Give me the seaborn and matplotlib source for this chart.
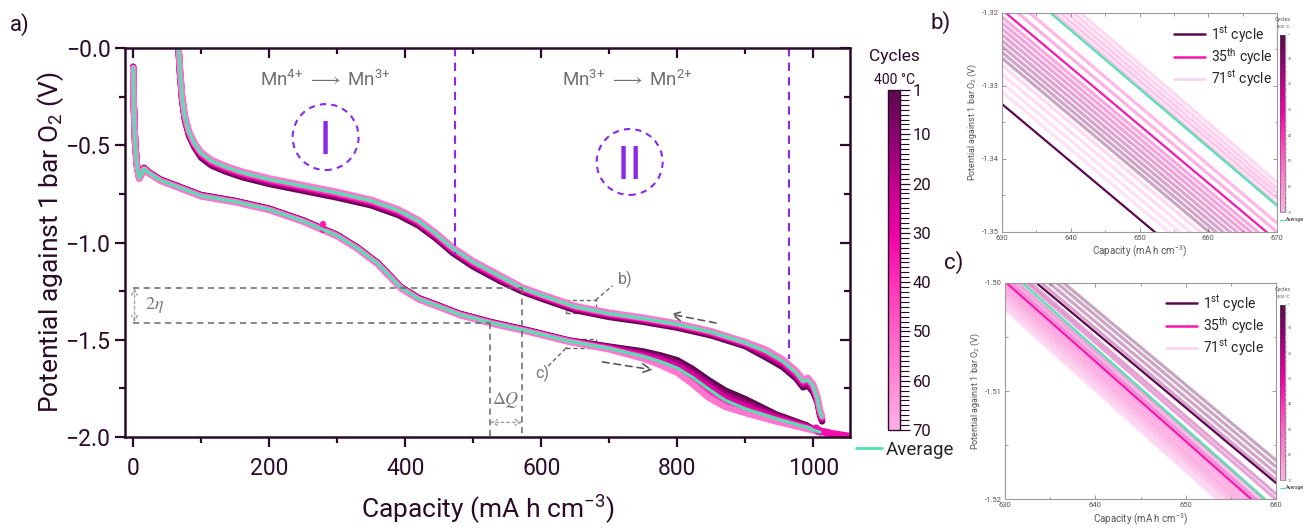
import numpy as np
import pandas as pd
import matplotlib
matplotlib.use("Agg")
import matplotlib.pyplot as plt
from matplotlib.colors import LinearSegmentedColormap, Normalize
from matplotlib.cm import ScalarMappable
from matplotlib.lines import Line2D
from matplotlib.patches import Ellipse, Rectangle
from matplotlib.ticker import FixedLocator, NullFormatter
import seaborn as sns

# ------------------------------------------------------------------
# Galvanostatic cycling at 400 °C: capacity (mA h cm^-3) vs potential (V)
# ------------------------------------------------------------------
cycle_ids = [1, 14, 27, 40, 55]

upper_capacity = [66, 69, 72, 76, 82, 90, 100, 115, 135, 160, 200, 250, 300, 350,
                  390, 420, 445, 470, 500, 540, 572, 600, 650, 700, 750, 800, 850,
                  900, 930, 955, 975, 985, 992, 1000, 1006, 1010, 1013]
upper_avg = [0.050, -0.120, -0.250, -0.350, -0.430, -0.490, -0.540, -0.580, -0.610,
             -0.640, -0.675, -0.710, -0.745, -0.785, -0.835, -0.890, -0.955, -1.030,
             -1.100, -1.175, -1.234, -1.270, -1.330, -1.365, -1.390, -1.420, -1.460,
             -1.515, -1.560, -1.610, -1.670, -1.715, -1.705, -1.740, -1.800, -1.870, -1.900]
upper_c1 = [0.030, -0.140, -0.270, -0.370, -0.450, -0.510, -0.564, -0.604, -0.634,
            -0.664, -0.699, -0.734, -0.769, -0.809, -0.859, -0.914, -0.979, -1.054,
            -1.124, -1.199, -1.252, -1.288, -1.348, -1.383, -1.408, -1.438, -1.478,
            -1.533, -1.590, -1.640, -1.700, -1.745, -1.735, -1.770, -1.820, -1.890, -1.920]
upper_c14 = [0.036, -0.134, -0.264, -0.364, -0.444, -0.504, -0.556, -0.596, -0.626,
             -0.656, -0.691, -0.726, -0.761, -0.801, -0.851, -0.906, -0.971, -1.046,
             -1.116, -1.191, -1.245, -1.281, -1.341, -1.376, -1.401, -1.431, -1.471,
             -1.526, -1.578, -1.628, -1.688, -1.733, -1.723, -1.758, -1.812, -1.882, -1.912]
upper_c27 = [0.042, -0.128, -0.258, -0.358, -0.438, -0.498, -0.548, -0.588, -0.618,
             -0.648, -0.683, -0.718, -0.753, -0.793, -0.843, -0.898, -0.963, -1.038,
             -1.108, -1.183, -1.239, -1.275, -1.335, -1.370, -1.395, -1.425, -1.465,
             -1.520, -1.568, -1.618, -1.678, -1.723, -1.713, -1.748, -1.805, -1.875, -1.905]
upper_c40 = [0.048, -0.122, -0.252, -0.352, -0.432, -0.492, -0.542, -0.582, -0.612,
             -0.642, -0.677, -0.712, -0.747, -0.787, -0.837, -0.892, -0.957, -1.032,
             -1.102, -1.177, -1.234, -1.270, -1.330, -1.365, -1.390, -1.420, -1.460,
             -1.515, -1.558, -1.608, -1.668, -1.713, -1.703, -1.738, -1.798, -1.868, -1.898]
upper_c55 = [0.054, -0.116, -0.246, -0.346, -0.426, -0.486, -0.535, -0.575, -0.605,
             -0.635, -0.670, -0.705, -0.740, -0.780, -0.830, -0.885, -0.950, -1.025,
             -1.095, -1.170, -1.230, -1.266, -1.326, -1.361, -1.386, -1.416, -1.456,
             -1.511, -1.550, -1.600, -1.660, -1.705, -1.695, -1.730, -1.792, -1.862, -1.892]

lower_capacity = [0, 1, 3, 6, 9, 12, 16, 22, 40, 70, 100, 150, 200, 250, 280, 300, 330,
                  360, 394, 420, 443, 480, 525, 580, 640, 700, 750, 775, 800, 822, 845,
                  870, 900, 945, 990, 1005, 1010]
lower_avg = [-0.100, -0.300, -0.500, -0.620, -0.670, -0.650, -0.620, -0.640, -0.680,
             -0.720, -0.760, -0.790, -0.830, -0.890, -0.935, -0.965, -1.030, -1.110,
             -1.234, -1.290, -1.320, -1.370, -1.412, -1.455, -1.507, -1.545, -1.585,
             -1.612, -1.645, -1.692, -1.750, -1.810, -1.855, -1.905, -1.950, -1.970, -1.975]
lower_c1 = [-0.096, -0.296, -0.496, -0.616, -0.666, -0.646, -0.616, -0.636, -0.676,
            -0.716, -0.756, -0.786, -0.826, -0.886, -0.931, -0.961, -1.026, -1.106,
            -1.230, -1.286, -1.316, -1.366, -1.408, -1.451, -1.503, -1.535, -1.560,
            -1.580, -1.605, -1.649, -1.705, -1.760, -1.805, -1.883, -1.940, -1.970, -1.975]
lower_c14 = [-0.097, -0.297, -0.497, -0.617, -0.667, -0.647, -0.617, -0.637, -0.677,
             -0.717, -0.757, -0.787, -0.827, -0.887, -0.932, -0.962, -1.027, -1.107,
             -1.231, -1.287, -1.317, -1.367, -1.409, -1.452, -1.504, -1.539, -1.570,
             -1.592, -1.620, -1.665, -1.722, -1.780, -1.825, -1.891, -1.944, -1.970, -1.975]
lower_c27 = [-0.099, -0.299, -0.499, -0.619, -0.669, -0.649, -0.619, -0.639, -0.679,
             -0.719, -0.759, -0.789, -0.829, -0.889, -0.934, -0.964, -1.029, -1.109,
             -1.233, -1.289, -1.319, -1.369, -1.411, -1.454, -1.506, -1.543, -1.580,
             -1.604, -1.635, -1.681, -1.738, -1.798, -1.843, -1.900, -1.948, -1.970, -1.975]
lower_c40 = [-0.101, -0.301, -0.501, -0.621, -0.671, -0.651, -0.621, -0.641, -0.681,
             -0.721, -0.761, -0.791, -0.831, -0.891, -0.936, -0.966, -1.031, -1.111,
             -1.235, -1.291, -1.321, -1.371, -1.413, -1.456, -1.508, -1.547, -1.589,
             -1.619, -1.655, -1.704, -1.765, -1.822, -1.863, -1.910, -1.953, -1.970, -1.975]
lower_c55 = [-0.103, -0.303, -0.503, -0.623, -0.673, -0.653, -0.623, -0.643, -0.683,
             -0.723, -0.763, -0.793, -0.833, -0.893, -0.938, -0.968, -1.033, -1.113,
             -1.237, -1.293, -1.323, -1.373, -1.415, -1.458, -1.510, -1.550, -1.597,
             -1.630, -1.670, -1.727, -1.795, -1.845, -1.877, -1.920, -1.958, -1.970, -1.975]

# short artefact of one discharge and the cut-off tail
glitch_capacity = [279, 279]
glitch_potential = [-0.906, -0.935]
tail_capacity = [1004, 1008, 1030, 1054]
tail_potential = [-1.955, -1.968, -1.985, -1.998]

# zoom b): upper branch, each line given at 630 and 670 mA h cm^-3
b_cycles = [4, 8, 12, 16, 20, 24, 28, 32, 38, 42, 46, 50, 54, 58, 62, 64, 66, 68, 70]
b_v630 = [-1.3262, -1.3254, -1.3246, -1.3238, -1.3230, -1.3222, -1.3214, -1.3206,
          -1.3182, -1.3168, -1.3140, -1.3132, -1.3124, -1.3116, -1.3108,
          -1.3272, -1.3284, -1.3296, -1.3308]
b_v670 = [-1.3578, -1.3570, -1.3562, -1.3554, -1.3546, -1.3538, -1.3530, -1.3522,
          -1.3500, -1.3488, -1.3462, -1.3454, -1.3447, -1.3440, -1.3432,
          -1.3588, -1.3600, -1.3612, -1.3624]
b_c1 = [-1.3325, -1.3640]
b_c35 = [-1.3196, -1.3512]
b_avg = [-1.3144, -1.3464]

# zoom c): lower branch, each line given at 630 and 660 mA h cm^-3
c_cycles = [3, 6, 9, 13, 17, 21, 25, 29, 32, 38, 41, 44, 48, 52, 56, 60, 64, 68]
c_v630 = [-1.4955, -1.4960, -1.4966, -1.4972, -1.4980, -1.4983, -1.4990, -1.4994,
          -1.4997, -1.5001, -1.5004, -1.5007, -1.5010, -1.5013, -1.5016, -1.5019,
          -1.5022, -1.5025]
c_v660 = [-1.5164, -1.5170, -1.5176, -1.5182, -1.5195, -1.5200, -1.5210, -1.5215,
          -1.5218, -1.5222, -1.5226, -1.5230, -1.5233, -1.5236, -1.5239, -1.5242,
          -1.5246, -1.5249]
c_c1 = [-1.4976, -1.5185]
c_c35 = [-1.4999, -1.5220]
c_avg = [-1.4986, -1.5209]

x_major = [0, 200, 400, 600, 800, 1000]
x_minor = [100, 300, 500, 700, 900]
y_major = [-2.0, -1.5, -1.0, -0.5, 0.0]
y_tick_labels = ["\u22122.0", "\u22121.5", "\u22121.0", "\u22120.5", "\u22120.0"]
y_minor = [-1.75, -1.25, -0.75, -0.25]
cbar_ticks = [1, 10, 20, 30, 40, 50, 60, 70]
legend_labels = ["1$^{\\mathrm{st}}$ cycle", "35$^{\\mathrm{th}}$ cycle", "71$^{\\mathrm{st}}$ cycle"]

# ------------------------------------------------------------------
sns.set_theme(style="ticks")
plt.rcParams["font.family"] = ["Roboto", "DejaVu Sans"]
plt.rcParams["mathtext.fontset"] = "custom"
plt.rcParams["mathtext.rm"] = "Roboto"
plt.rcParams["mathtext.it"] = "Roboto:italic"
plt.rcParams["mathtext.bf"] = "Roboto:bold"
plt.rcParams["mathtext.sf"] = "Roboto"

INK = "#2a0c28"
MINT = "#52e2b2"
VIOLET = "#8a2ae8"
GRAY = "#666666"
cycle_cmap = LinearSegmentedColormap.from_list(
    "cycles", ["#5b0a4e", "#8c0071", "#c4008f", "#f000a8", "#ff33b8",
               "#ff62c8", "#ff8ad6", "#fbb0e6"])
cycle_norm = Normalize(1, 70)

W, H = 1309, 530
fig = plt.figure(figsize=(W / 100, H / 100), dpi=100)


def fx(px):
    return px / W


def fy(py):
    return 1 - py / H


def box(left, top, right, bottom):
    return [fx(left), fy(bottom), fx(right) - fx(left), fy(top) - fy(bottom)]


def branch_frame(capacity, series):
    frames = [pd.DataFrame({"capacity": capacity, "potential": v, "cycle": c})
              for c, v in series]
    return pd.concat(frames, ignore_index=True)


# ---------------------------- main panel --------------------------
ax = fig.add_axes(box(125, 48, 850, 437))
upper_df = branch_frame(upper_capacity, zip(cycle_ids, [upper_c1, upper_c14, upper_c27, upper_c40, upper_c55]))
lower_df = branch_frame(lower_capacity, zip(cycle_ids, [lower_c1, lower_c14, lower_c27, lower_c40, lower_c55]))
for df in (upper_df, lower_df):
    sns.lineplot(data=df, x="capacity", y="potential", hue="cycle", palette=cycle_cmap,
                 hue_norm=cycle_norm, estimator=None, sort=False, linewidth=4.6,
                 legend=False, ax=ax, solid_capstyle="round", solid_joinstyle="round")
sns.lineplot(x=glitch_capacity, y=glitch_potential, color=cycle_cmap(cycle_norm(36)),
             linewidth=4.5, estimator=None, sort=False, ax=ax)
sns.lineplot(x=tail_capacity, y=tail_potential, color=cycle_cmap(cycle_norm(33)),
             linewidth=5.5, estimator=None, sort=False, ax=ax, solid_capstyle="round")
for cap, avg in ((upper_capacity, upper_avg), (lower_capacity, lower_avg)):
    sns.lineplot(x=cap, y=avg, color=MINT, linewidth=2.2, estimator=None, sort=False,
                 ax=ax, solid_capstyle="round")

ax.set_xlim(-12, 1054)
ax.set_ylim(-2.0, 0.0)
ax.set_xticks(x_major)
ax.set_xticks(x_minor, minor=True)
ax.set_yticks(y_major, labels=y_tick_labels)
ax.set_yticks(y_minor, minor=True)
ax.tick_params(axis="both", which="major", direction="out", length=7.5, width=1.6,
               colors=INK, labelsize=16.5)
ax.tick_params(axis="both", which="minor", direction="out", length=4, width=1.6, colors=INK)
ax.tick_params(axis="x", which="major", pad=7)
ax.tick_params(axis="y", which="major", pad=3)
for s in ax.spines.values():
    s.set_color(INK)
    s.set_linewidth(1.8)

top = ax.secondary_xaxis("top")
top.set_xticks(x_major)
top.xaxis.set_minor_locator(FixedLocator(x_minor))
top.xaxis.set_major_formatter(NullFormatter())
top.tick_params(which="major", direction="in", length=7, width=1.6, colors=INK)
top.tick_params(which="minor", direction="in", length=4, width=1.6, colors=INK)
right = ax.secondary_yaxis("right")
right.set_yticks(y_major)
right.yaxis.set_minor_locator(FixedLocator(y_minor))
right.yaxis.set_major_formatter(NullFormatter())
right.tick_params(which="major", direction="in", length=7, width=1.6, colors=INK)
right.tick_params(which="minor", direction="in", length=4, width=1.6, colors=INK)
for sec in (top, right):
    for s in sec.spines.values():
        s.set_visible(False)

ax.set_xlabel("Capacity (mA h cm$^{-3}$)", fontsize=19, color=INK)
ax.xaxis.set_label_coords(0.5, -0.145)
ax.set_ylabel("Potential against 1 bar O$_2$ (V)", fontsize=19, color=INK)
ax.yaxis.set_label_coords(-0.082, 0.5)

# redox regions
dash_v = (0, (4, 3))
ax.plot([473, 473], [0.0, -1.06], color=VIOLET, lw=1.5, ls=dash_v)
ax.plot([964, 964], [0.0, -1.60], color=VIOLET, lw=1.5, ls=dash_v)
ax.text(283, -0.165, "Mn$^{4{+}}$ $\\longrightarrow$ Mn$^{3{+}}$", ha="center", va="center",
        fontsize=13.5, color="#707070")
ax.text(727, -0.165, "Mn$^{3{+}}$ $\\longrightarrow$ Mn$^{2{+}}$", ha="center", va="center",
        fontsize=13.5, color="#707070")
for cx, cy, numeral in ((283, -0.458, "I"), (730, -0.586, "II")):
    ax.add_patch(Ellipse((cx, cy), width=97, height=0.339, fill=False, ec=VIOLET,
                         lw=1.5, ls=(0, (3, 2.5))))
    ax.text(cx, cy, numeral, ha="center", va="center_baseline", fontsize=32,
            color=VIOLET, family="DejaVu Sans")

# overpotential / capacity-loss guides
g_dash = (0, (4, 3))
ax.plot([0, 572], [-1.234, -1.234], color=GRAY, lw=1.1, ls=g_dash)
ax.plot([0, 525], [-1.412, -1.412], color=GRAY, lw=1.1, ls=g_dash)
ax.plot([572, 572], [-1.234, -2.0], color=GRAY, lw=1.1, ls=g_dash)
ax.plot([525, 525], [-1.412, -2.0], color=GRAY, lw=1.1, ls=g_dash)
ax.annotate("", xy=(2, -1.412), xytext=(2, -1.234),
            arrowprops=dict(arrowstyle="<->", color="#a0a0a0", lw=1.0, ls=(0, (2, 2)),
                            shrinkA=0, shrinkB=0, mutation_scale=10))
ax.annotate("", xy=(525, -1.925), xytext=(572, -1.925),
            arrowprops=dict(arrowstyle="<->", color="#a0a0a0", lw=1.0, ls=(0, (2, 2)),
                            shrinkA=0, shrinkB=0, mutation_scale=10))
ax.text(17, -1.322, "$2\\eta$", math_fontfamily="stix", fontsize=13, color="#777777",
        ha="left", va="center")
ax.text(548, -1.81, "$\\Delta Q$", math_fontfamily="stix", fontsize=13, color="#777777",
        ha="center", va="center")

# direction arrows
ax.annotate("", xy=(790, -1.368), xytext=(857, -1.414),
            arrowprops=dict(arrowstyle="->", color="#5a5a5a", lw=1.2, ls=(0, (4, 3)),
                            shrinkA=0, shrinkB=0, mutation_scale=16))
ax.annotate("", xy=(764, -1.655), xytext=(690, -1.614),
            arrowprops=dict(arrowstyle="->", color="#5a5a5a", lw=1.2, ls=(0, (4, 3)),
                            shrinkA=0, shrinkB=0, mutation_scale=16))

# zoom windows
ax.add_patch(Rectangle((636, -1.362), 44, 0.066, fill=False, ec=GRAY, lw=1.0, ls=(0, (3, 2))))
ax.add_patch(Rectangle((636, -1.544), 44, 0.046, fill=False, ec=GRAY, lw=1.0, ls=(0, (3, 2))))
ax.plot([680, 705], [-1.296, -1.222], color=GRAY, lw=1.0, ls=(0, (3, 2)))
ax.plot([636, 609], [-1.544, -1.64], color=GRAY, lw=1.0, ls=(0, (3, 2)))
ax.text(712, -1.19, "b)", fontsize=11.5, color="#777777", ha="left", va="center")
ax.text(602, -1.672, "c)", fontsize=11.5, color="#777777", ha="center", va="center")

# ---------------------------- colour bar ---------------------------
cax = fig.add_axes(box(888, 90, 900, 430))
cb = fig.colorbar(ScalarMappable(norm=cycle_norm, cmap=cycle_cmap), cax=cax)
cb.set_ticks(cbar_ticks)
cax.invert_yaxis()
cax.yaxis.set_minor_locator(FixedLocator(list(range(1, 71))))
cax.tick_params(which="major", direction="out", length=7, width=0.9, colors=INK, labelsize=12, pad=2)
cax.tick_params(which="minor", direction="out", length=6.5, width=0.8, colors=INK)
cb.outline.set_edgecolor(INK)
cb.outline.set_linewidth(1.0)
fig.text(fx(894), fy(57), "Cycles", ha="center", va="center", fontsize=12.5, color=INK)
fig.text(fx(895), fy(80), "400 °C", ha="center", va="center", fontsize=10, color=INK)
fig.legend(handles=[Line2D([], [], color=MINT, lw=2)], labels=["Average"],
           loc="center left", bbox_to_anchor=(fx(856), fy(450)), frameon=False,
           fontsize=13.5, handlelength=1.4, handletextpad=0.2, borderpad=0,
           borderaxespad=0)

fig.text(fx(10), fy(25), "a)", fontsize=16, color=INK, ha="left", va="center")
fig.text(fx(930), fy(23), "b)", fontsize=16, color=INK, ha="left", va="center")
fig.text(fx(944), fy(263), "c)", fontsize=16, color=INK, ha="left", va="center")


# ---------------------------- zoom panels --------------------------
def zoom_panel(rect, xl, xr, cycles, v_left, v_right, c1, c35, avg,
               xticks, xminor, yticks, yminor, legend_anchor, faint):
    a = fig.add_axes(rect)
    lines = pd.DataFrame({
        "cycle": np.repeat(cycles, 2),
        "capacity": np.tile([xl, xr], len(cycles)),
        "potential": np.column_stack([v_left, v_right]).ravel(),
    })
    sns.lineplot(data=lines, x="capacity", y="potential", hue="cycle", palette=cycle_cmap,
                 hue_norm=cycle_norm, estimator=None, sort=False, linewidth=2.3,
                 alpha=faint, legend=False, ax=a)
    sns.lineplot(x=[xl, xr], y=c35, color=cycle_cmap(cycle_norm(35)), linewidth=1.6, ax=a)
    sns.lineplot(x=[xl, xr], y=avg, color=MINT, linewidth=1.6, ax=a)
    sns.lineplot(x=[xl, xr], y=c1, color=cycle_cmap(cycle_norm(1)), linewidth=1.6, ax=a)
    a.set_xlim(xl, xr)
    a.set_ylim(yticks[0], yticks[-1])
    a.set_xticks(xticks, labels=[str(t) for t in xticks])
    a.set_xticks(xminor, minor=True)
    a.set_yticks(yticks, labels=[f"{t:.2f}" for t in yticks])
    a.set_yticks(yminor, minor=True)
    a.tick_params(which="both", direction="in", top=True, right=True, colors="#8a8a8a",
                  labelcolor="#555555", labelsize=5.5, width=0.6, pad=2)
    a.tick_params(which="major", length=3)
    a.tick_params(which="minor", length=1.8)
    for s in a.spines.values():
        s.set_color("#9a9a9a")
        s.set_linewidth(0.8)
    a.set_xlabel("Capacity (mA h cm$^{-3}$)", fontsize=7, color="#555555", labelpad=2)
    a.set_ylabel("Potential against 1 bar O$_2$ (V)", fontsize=6.5, color="#555555", labelpad=2)
    handles = [Line2D([], [], color=cycle_cmap(cycle_norm(1)), lw=1.8),
               Line2D([], [], color=cycle_cmap(cycle_norm(35)), lw=1.8),
               Line2D([], [], color="#f6d2ec", lw=1.8)]
    a.legend(handles=handles, labels=legend_labels, loc="upper right",
             bbox_to_anchor=legend_anchor, frameon=False, fontsize=10,
             handlelength=2.2, handletextpad=0.4, labelspacing=0.12,
             borderpad=0, borderaxespad=0)
    return a


def mini_cbar(rect, title_y, avg_y):
    m = fig.add_axes(rect)
    mcb = fig.colorbar(ScalarMappable(norm=cycle_norm, cmap=cycle_cmap), cax=m)
    mcb.set_ticks(cbar_ticks)
    m.invert_yaxis()
    m.yaxis.set_minor_locator(FixedLocator(list(range(1, 71))))
    m.tick_params(which="both", direction="out", length=1.5, width=0.3, colors="#555555",
                  labelsize=2.5, pad=0.5)
    mcb.outline.set_edgecolor("#555555")
    mcb.outline.set_linewidth(0.4)
    fig.text(fx(1283), fy(title_y), "Cycles", ha="center", va="center", fontsize=4, color="#555555")
    fig.text(fx(1283), fy(title_y + 8), "400 °C", ha="center", va="center", fontsize=3, color="#555555")
    fig.legend(handles=[Line2D([], [], color=MINT, lw=0.8)], labels=["Average"],
               loc="center left", bbox_to_anchor=(fx(1280), fy(avg_y)), frameon=False,
               fontsize=3.6, handlelength=1.0, handletextpad=0.2, borderpad=0,
               borderaxespad=0)


zoom_panel(box(1002, 12.7, 1277, 232), 630, 670, b_cycles, b_v630, b_v670,
           b_c1, b_c35, b_avg, [630, 640, 650, 660, 670], [635, 645, 655, 665],
           [-1.35, -1.34, -1.33, -1.32], [-1.345, -1.335, -1.325],
           ((1272 - 1002) / 275, 1 - (24 - 12.7) / 219.3), 0.36)
mini_cbar(box(1280, 35, 1285, 212), 19, 220)

zoom_panel(box(1005, 282.7, 1276, 499.3), 630, 660, c_cycles, c_v630, c_v660,
           c_c1, c_c35, c_avg, [630, 640, 650, 660], [635, 645, 655],
           [-1.52, -1.51, -1.50], [-1.515, -1.505],
           ((1264 - 1005) / 271, 1 - (293 - 282.7) / 216.6), 0.36)
mini_cbar(box(1280, 305, 1285, 480), 289, 488)

fig.savefig("out.png", dpi=100)
